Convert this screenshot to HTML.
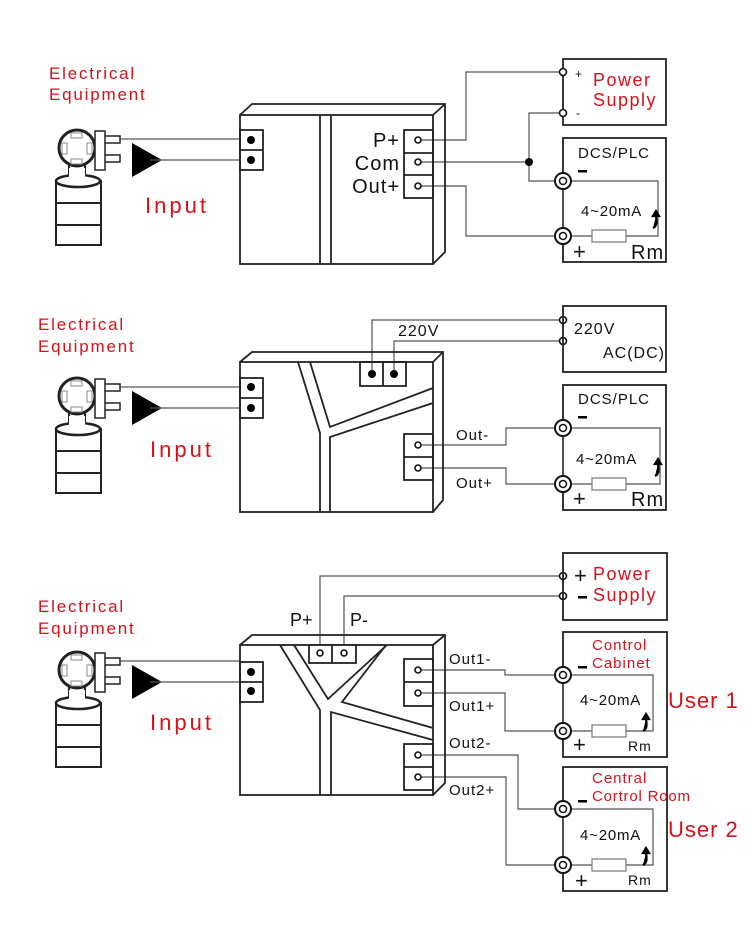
<!DOCTYPE html>
<html><head><meta charset="utf-8"><style>
html,body{margin:0;padding:0;background:#fff;}
svg{display:block;font-family:"Liberation Sans",sans-serif;}
.r{fill:#d7101a;}
.t{fill:#111;}
.eq{letter-spacing:1.8px;}
</style></head><body>
<svg width="750" height="952" viewBox="0 0 750 952" xmlns="http://www.w3.org/2000/svg">
<defs>
<g id="sensor" fill="#fff" stroke="#222">
<rect x="69" y="163" width="16" height="20" stroke-width="2"/>
<rect x="56" y="181" width="45" height="64" stroke-width="2"/>
<line x1="56" y1="203" x2="101" y2="203" stroke-width="2"/>
<line x1="56" y1="225" x2="101" y2="225" stroke-width="2"/>
<ellipse cx="78" cy="181" rx="22" ry="6" stroke-width="2.5"/>
<rect x="69" y="168" width="16" height="14" stroke="none"/>
<circle cx="77" cy="148" r="18" stroke-width="3"/>
<rect x="71" y="133" width="11" height="5" stroke="#888" stroke-width="1"/>
<rect x="71" y="159" width="11" height="5" stroke="#888" stroke-width="1"/>
<rect x="62" y="143" width="5" height="11" stroke="#888" stroke-width="1"/>
<rect x="87" y="143" width="5" height="11" stroke="#888" stroke-width="1"/>
<rect x="104" y="136" width="16" height="7" stroke-width="1.5"/>
<rect x="104" y="155" width="16" height="7" stroke-width="1.5"/>
<rect x="95" y="131" width="10" height="39" stroke-width="1.5"/>
<polygon points="132,143 132,177 162,160" fill="#000" stroke="none"/>
</g>
<g id="ring"><circle r="8" fill="#fff" stroke="#111" stroke-width="2"/><circle r="3.5" fill="none" stroke="#111" stroke-width="1.5"/></g>
<path id="arr" d="M0,8 C4,6 4,2 3,-4 M0,-4 L3,-9 L6,-4 Z" fill="#000" stroke="#000" stroke-width="2.2"/>
</defs>

<!-- ========== Diagram 1 ========== -->
<text class="r eq" x="49" y="79" font-size="17">Electrical</text>
<text class="r eq" x="49" y="100" font-size="17">Equipment</text>
<use href="#sensor"/>
<text class="r" x="145" y="213" font-size="22" letter-spacing="3">Input</text>
<g stroke="#555" stroke-width="1.2" fill="none">
<line x1="120" y1="139" x2="240" y2="139"/><line x1="150" y1="160" x2="240" y2="160"/>
<polyline points="418,140 466,140 466,72 560,72"/>
<polyline points="418,162 529,162"/>
<polyline points="560,113 529,113 529,181 555,181"/>
<polyline points="418,186 466,186 466,236 555,236"/>
</g>
<g stroke="#222" stroke-width="1.8" fill="none">
<polyline points="240,115 252,104 445,104 445,252 433,264"/>
<rect x="240" y="115" width="193" height="149"/>
<line x1="433" y1="115" x2="445" y2="104"/>
<line x1="320" y1="115" x2="320" y2="264"/><line x1="331" y1="115" x2="331" y2="264"/>
<rect x="240" y="130" width="23" height="40"/><line x1="240" y1="150" x2="263" y2="150"/>
<rect x="404" y="130" width="29" height="68"/><line x1="404" y1="153" x2="433" y2="153"/><line x1="404" y1="175" x2="433" y2="175"/>
</g>
<circle cx="251" cy="140" r="4"/><circle cx="251" cy="160" r="4"/>
<g fill="#fff" stroke="#111" stroke-width="1.6"><circle cx="418" cy="140" r="3"/><circle cx="418" cy="162" r="3"/><circle cx="418" cy="186" r="3"/></g>
<circle cx="529" cy="162" r="4"/>
<g class="t" font-size="20" text-anchor="end" letter-spacing="1"><text x="400" y="147">P+</text><text x="400" y="170">Com</text><text x="400" y="193">Out+</text></g>
<g stroke="#222" stroke-width="1.8" fill="none"><rect x="563" y="59" width="103" height="66"/><rect x="563" y="138" width="103" height="124"/></g>
<g fill="#fff" stroke="#111" stroke-width="1.6"><circle cx="563" cy="72" r="3.5"/><circle cx="563" cy="113" r="3.5"/></g>
<text class="t" x="575" y="78" font-size="12">+</text><text class="t" x="576" y="117" font-size="12">-</text>
<text class="r" x="593" y="86" font-size="18" letter-spacing="1.5">Power</text>
<text class="r" x="593" y="106" font-size="18" letter-spacing="1.5">Supply</text>
<text class="t" x="578" y="158" font-size="15" letter-spacing="1">DCS/PLC</text>
<rect x="578" y="170" width="9" height="2.5" fill="#000"/>
<g stroke="#555" stroke-width="1.2" fill="none"><polyline points="571,181 658,181 658,236 626,236"/><line x1="571" y1="236" x2="592" y2="236"/><line x1="563" y1="189" x2="563" y2="228"/></g>
<rect x="592" y="230" width="34" height="12" fill="#fff" stroke="#777" stroke-width="1.2"/>
<use href="#ring" x="563" y="181"/><use href="#ring" x="563" y="236"/>
<text class="t" x="581" y="216" font-size="15" letter-spacing="0.8">4~20mA</text>
<use href="#arr" x="653" y="220"/>
<text class="t" x="573" y="259" font-size="22">+</text>
<text class="t" x="631" y="259" font-size="20" letter-spacing="1">Rm</text>

<!-- ========== Diagram 2 ========== -->
<text class="r eq" x="38" y="330" font-size="17">Electrical</text>
<text class="r eq" x="38" y="352" font-size="17">Equipment</text>
<use href="#sensor" y="248"/>
<text class="r" x="150" y="457" font-size="22" letter-spacing="3">Input</text>
<g stroke="#555" stroke-width="1.2" fill="none">
<line x1="120" y1="387" x2="240" y2="387"/><line x1="150" y1="408" x2="240" y2="408"/>
<polyline points="372,374 372,320 560,320"/>
<polyline points="394,374 394,341 560,341"/>
<polyline points="418,445 506,445 506,428 555,428"/>
<polyline points="418,468 506,468 506,484 555,484"/>
</g>
<g stroke="#222" stroke-width="1.8" fill="none">
<polyline points="240,362 252,352 443,352 443,500 433,512"/>
<rect x="240" y="362" width="193" height="150"/>
<line x1="433" y1="362" x2="443" y2="352"/>
<polyline points="298,362 320,433 320,512"/>
<polyline points="310,362 330,427 433,388"/>
<polyline points="433,403 330,437 330,512"/>
<rect x="240" y="378" width="23" height="40"/><line x1="240" y1="398" x2="263" y2="398"/>
<rect x="360" y="362" width="46" height="24"/><line x1="383" y1="362" x2="383" y2="386"/>
<rect x="404" y="434" width="29" height="46"/><line x1="404" y1="457" x2="433" y2="457"/>
</g>
<circle cx="251" cy="387" r="4"/><circle cx="251" cy="408" r="4"/>
<circle cx="372" cy="374" r="4"/><circle cx="394" cy="374" r="4"/>
<g fill="#fff" stroke="#111" stroke-width="1.6"><circle cx="418" cy="445" r="3"/><circle cx="418" cy="468" r="3"/><circle cx="563" cy="320" r="3.5"/><circle cx="563" cy="341" r="3.5"/></g>
<text class="t" x="398" y="336" font-size="16" letter-spacing="1">220V</text>
<text class="t" x="456" y="440" font-size="15" letter-spacing="1">Out-</text>
<text class="t" x="456" y="488" font-size="15" letter-spacing="1">Out+</text>
<g stroke="#222" stroke-width="1.8" fill="none"><rect x="563" y="306" width="103" height="66"/><rect x="563" y="385" width="103" height="125"/></g>
<text class="t" x="574" y="334" font-size="16" letter-spacing="1">220V</text>
<text class="t" x="603" y="358" font-size="16" letter-spacing="1">AC(DC)</text>
<text class="t" x="578" y="404" font-size="15" letter-spacing="1">DCS/PLC</text>
<rect x="578" y="416" width="9" height="2.5" fill="#000"/>
<g stroke="#555" stroke-width="1.2" fill="none"><polyline points="571,428 660,428 660,484 626,484"/><line x1="571" y1="484" x2="592" y2="484"/><line x1="563" y1="436" x2="563" y2="476"/></g>
<rect x="592" y="478" width="34" height="12" fill="#fff" stroke="#777" stroke-width="1.2"/>
<use href="#ring" x="563" y="428"/><use href="#ring" x="563" y="484"/>
<text class="t" x="576" y="464" font-size="15" letter-spacing="0.8">4~20mA</text>
<use href="#arr" x="655" y="468"/>
<text class="t" x="573" y="506" font-size="22">+</text>
<text class="t" x="631" y="506" font-size="20" letter-spacing="1">Rm</text>

<!-- ========== Diagram 3 ========== -->
<text class="r eq" x="38" y="612" font-size="17">Electrical</text>
<text class="r eq" x="38" y="634" font-size="17">Equipment</text>
<use href="#sensor" y="522"/>
<text class="r" x="150" y="730" font-size="22" letter-spacing="3">Input</text>
<g stroke="#555" stroke-width="1.2" fill="none">
<line x1="120" y1="661" x2="240" y2="661"/><line x1="150" y1="682" x2="240" y2="682"/>
<polyline points="320,653 320,576 560,576"/>
<polyline points="344,653 344,596 560,596"/>
<polyline points="418,670 505,670 505,675 555,675"/>
<polyline points="418,693 505,693 505,731 555,731"/>
<polyline points="418,755 518,755 518,809 555,809"/>
<polyline points="418,777 506,777 506,865 555,865"/>
</g>
<g stroke="#222" stroke-width="1.8" fill="none">
<polyline points="240,645 252,635 445,635 445,783 433,795"/>
<rect x="240" y="645" width="193" height="150"/>
<line x1="433" y1="645" x2="445" y2="635"/>
<polyline points="280,645 320,710 320,795"/>
<polyline points="294,645 328,699 387,645"/>
<polyline points="386,645 342,702 433,728"/>
<polyline points="433,740 331,712 331,795"/>
<rect x="240" y="662" width="23" height="40"/><line x1="240" y1="682" x2="263" y2="682"/>
<rect x="309" y="645" width="47" height="18" fill="#fff"/><line x1="332" y1="645" x2="332" y2="663"/>
<rect x="404" y="659" width="29" height="47"/><line x1="404" y1="682" x2="433" y2="682"/>
<rect x="404" y="744" width="29" height="46"/><line x1="404" y1="767" x2="433" y2="767"/>
</g>
<circle cx="251" cy="672" r="4"/><circle cx="251" cy="691" r="4"/>
<g fill="#fff" stroke="#111" stroke-width="1.6"><circle cx="320" cy="653" r="3"/><circle cx="344" cy="653" r="3"/>
<circle cx="418" cy="670" r="3"/><circle cx="418" cy="693" r="3"/><circle cx="418" cy="755" r="3"/><circle cx="418" cy="777" r="3"/>
<circle cx="563" cy="576" r="3.5"/><circle cx="563" cy="596" r="3.5"/></g>
<text class="t" x="290" y="626" font-size="18">P+</text>
<text class="t" x="350" y="626" font-size="18">P-</text>
<g class="t" font-size="15" letter-spacing="1"><text x="449" y="664">Out1-</text><text x="449" y="711">Out1+</text><text x="449" y="748">Out2-</text><text x="449" y="795">Out2+</text></g>
<g stroke="#222" stroke-width="1.8" fill="none"><rect x="563" y="553" width="104" height="67"/><rect x="563" y="632" width="104" height="125"/><rect x="563" y="767" width="104" height="124"/></g>
<text class="t" x="574" y="583" font-size="22">+</text>
<rect x="578" y="596" width="9" height="2.5" fill="#000"/>
<text class="r" x="593" y="580" font-size="18" letter-spacing="1.5">Power</text>
<text class="r" x="593" y="601" font-size="18" letter-spacing="1.5">Supply</text>
<text class="r" x="592" y="650" font-size="15" letter-spacing="1">Control</text>
<text class="r" x="592" y="668" font-size="15" letter-spacing="1">Cabinet</text>
<rect x="578" y="666" width="9" height="2.5" fill="#000"/>
<g stroke="#555" stroke-width="1.2" fill="none"><polyline points="571,675 653,675 653,731 626,731"/><line x1="571" y1="731" x2="592" y2="731"/><line x1="563" y1="683" x2="563" y2="723"/></g>
<rect x="592" y="725" width="34" height="12" fill="#fff" stroke="#777" stroke-width="1.2"/>
<use href="#ring" x="563" y="675"/><use href="#ring" x="563" y="731"/>
<text class="t" x="580" y="705" font-size="15" letter-spacing="0.8">4~20mA</text>
<use href="#arr" x="643" y="723"/>
<text class="t" x="573" y="752" font-size="22">+</text>
<text class="t" x="628" y="751" font-size="14" letter-spacing="1">Rm</text>
<text class="r" x="592" y="783" font-size="15" letter-spacing="1">Central</text>
<text class="r" x="592" y="801" font-size="15" letter-spacing="0.8">Cortrol Room</text>
<rect x="578" y="800" width="9" height="2.5" fill="#000"/>
<g stroke="#555" stroke-width="1.2" fill="none"><polyline points="571,809 653,809 653,865 626,865"/><line x1="571" y1="865" x2="592" y2="865"/><line x1="563" y1="817" x2="563" y2="857"/></g>
<rect x="592" y="859" width="34" height="12" fill="#fff" stroke="#777" stroke-width="1.2"/>
<use href="#ring" x="563" y="809"/><use href="#ring" x="563" y="865"/>
<text class="t" x="580" y="840" font-size="15" letter-spacing="0.8">4~20mA</text>
<use href="#arr" x="643" y="857"/>
<text class="t" x="575" y="888" font-size="22">+</text>
<text class="t" x="628" y="885" font-size="14" letter-spacing="1">Rm</text>
<text class="r" x="668" y="708" font-size="22" letter-spacing="1">User 1</text>
<text class="r" x="668" y="837" font-size="22" letter-spacing="1">User 2</text>
</svg>
</body></html>
